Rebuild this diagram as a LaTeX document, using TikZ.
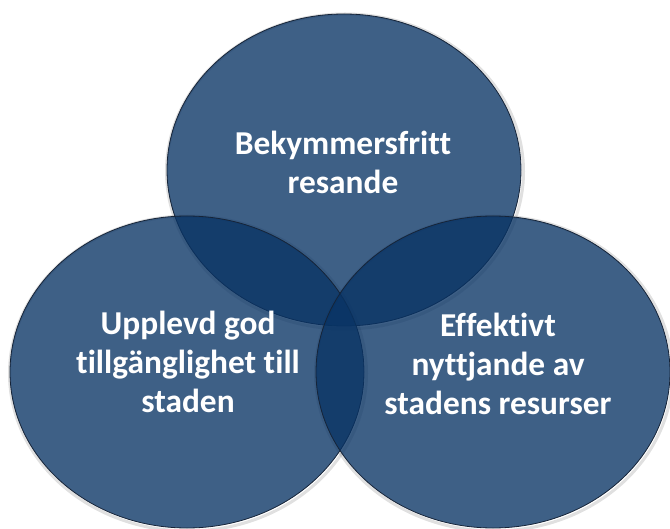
\documentclass[tikz,border=0pt]{standalone}
\usepackage{fontspec}
\setmainfont{Carlito}[Ligatures={NoCommon}]
\usetikzlibrary{shapes.geometric}
\definecolor{vennfill}{RGB}{8,51,100}
\definecolor{vennline}{RGB}{22,36,56}
\begin{document}
\begin{tikzpicture}[x=1bp,y=-1bp,
  venn/.style={ellipse, minimum width=354bp, minimum height=312bp, inner sep=0pt,
    fill=vennfill, fill opacity=0.78, draw=vennline, line width=0.8bp},
  vshadow/.style={ellipse, minimum width=357bp, minimum height=315bp, inner sep=0pt,
    draw=black, draw opacity=0.12, line width=3bp},
  lbl/.style={text=white, align=center, font=\fontsize{33.5}{39}\selectfont\bfseries}]
\useasboundingbox (0,0) rectangle (670,529);
\node[vshadow] (s1) at (345,171.5) {};
\node[vshadow] (s2) at (188,373.5) {};
\node[vshadow] (s3) at (494,373.5) {};
\node[venn] (c1) at (344,170) {};
\node[venn] (c2) at (187,372) {};
\node[venn] (c3) at (493,372) {};
\node[lbl] (t1) at (343,162) {Bekymmersfritt\\resande};
\node[lbl] (t2) at (188,362) {Upplevd god\\tillgänglighet till\\staden};
\node[lbl] (t3) at (498,364) {Effektivt\\nyttjande av\\stadens resurser};
\end{tikzpicture}
\end{document}
